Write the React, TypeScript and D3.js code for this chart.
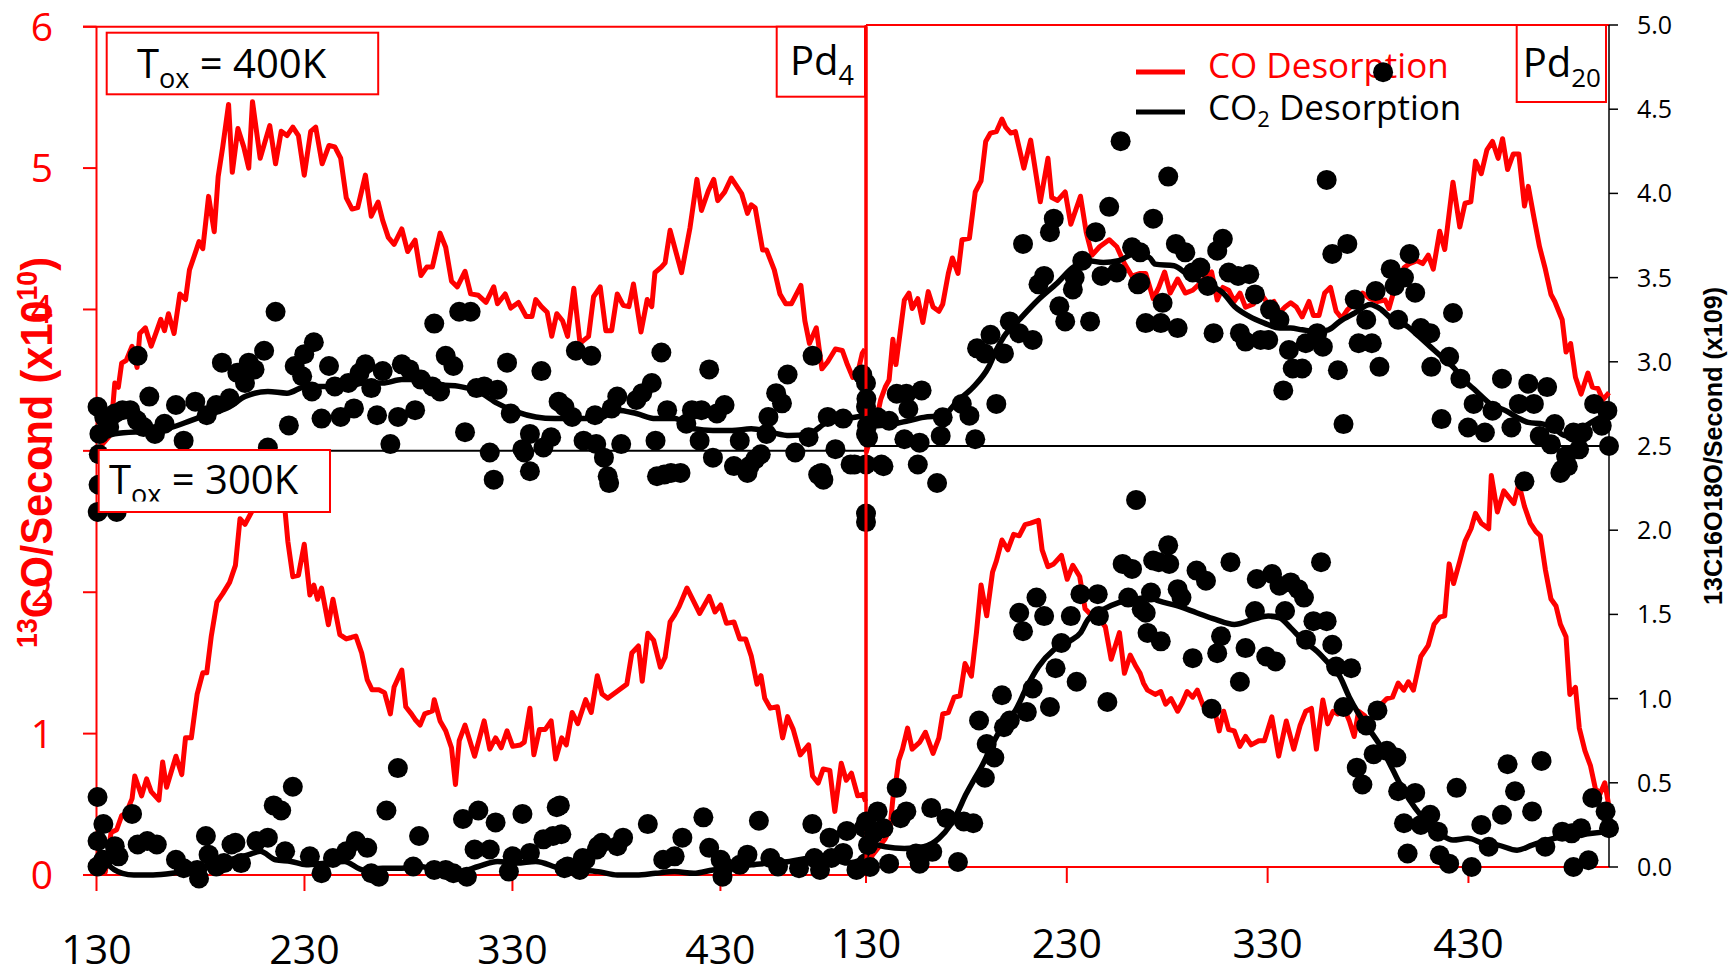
import React from 'react';
import * as d3 from 'd3';

type P = [number, number];

// ---------- axis ticks ----------
const xTickValues = [130, 230, 330, 430];
const leftRedTicks = [0, 1, 2, 3, 4, 5, 6];
const rightTicks = [0, 0.5, 1, 1.5, 2, 2.5, 3, 3.5, 4, 4.5, 5];

// ---------- Pd4, Tox = 400K (plotted on upper half) ----------
const pd4Ox400CO: P[] = [[130.5,2.98],[133,3.05],[136,3.1],[137.5,3.25],[138.8,3.48],[140.5,3.45],[142.1,3.62],[144.3,3.64],[147.1,3.74],[149.5,3.59],[150.8,3.83],[153.5,3.87],[156.3,3.74],[159,3.85],[160.9,3.93],[162.7,3.85],[164.6,3.97],[167.3,3.83],[170.1,4.11],[172.8,4.07],[174.7,4.28],[177.5,4.40],[179.3,4.48],[181.1,4.43],[183.9,4.80],[186.6,4.55],[188.5,4.94],[190.7,5.15],[193.5,5.45],[195.3,4.97],[198,5.28],[200.8,5.15],[203.2,5.00],[205,5.47],[208.7,5.07],[213.3,5.30],[216.1,5.03],[218.8,5.26],[221.6,5.23],[224.4,5.29],[227.1,5.23],[229.9,4.95],[233,5.26],[235.4,5.29],[238.5,5.03],[241.8,5.16],[244.6,5.15],[247.4,5.07],[250.1,4.79],[252.9,4.71],[255.6,4.72],[259.3,4.95],[262.1,4.66],[265.4,4.76],[267.6,4.63],[270.3,4.51],[273.1,4.46],[276.8,4.57],[279.6,4.41],[283.2,4.49],[286,4.24],[288.8,4.30],[291.5,4.30],[295.2,4.54],[297.9,4.44],[300.7,4.20],[303.5,4.16],[307.2,4.27],[309.9,4.11],[313.6,4.10],[317.3,4.05],[321,4.16],[322.8,4.04],[326.5,4.11],[329.2,4.01],[332.9,4.05],[336.6,3.95],[339.4,3.95],[341.2,4.07],[343.9,4.02],[346.7,3.98],[348.9,3.81],[351.3,3.97],[354.1,3.92],[356.5,3.81],[359.5,4.15],[362.5,3.76],[366.6,3.81],[369,4.09],[372.2,4.16],[374.9,3.85],[377.7,3.85],[380.4,4.11],[383.2,4.03],[386,4.02],[388.2,4.18],[391.8,3.84],[394.8,4.07],[397,4.02],[398.5,4.26],[401.6,4.30],[403.4,4.33],[405.8,4.56],[411.3,4.26],[415.4,4.58],[418.7,4.92],[420.9,4.70],[424.2,4.84],[426.8,4.92],[428.7,4.77],[432,4.83],[435.2,4.93],[437.5,4.88],[440.2,4.82],[443,4.68],[444.8,4.74],[446.7,4.72],[450.3,4.42],[452.2,4.42],[455.9,4.28],[458.6,4.11],[461.4,4.04],[464.1,4.04],[468.7,4.17],[470.6,3.92],[472.8,3.76],[476.1,3.87],[478.8,3.58],[481.6,3.63],[485.3,3.72],[488.6,3.71],[490.8,3.62],[493.6,3.52],[496.3,3.57],[498.2,3.69],[499.5,3.72]];

const pd4Ox400CO2: P[] = [[130.5,2.76],[131.4,2.60],[131.1,2.48],[130.6,2.14],[131,2.3],[133.7,2.70],[136.1,2.64],[138.8,2.72],[139.7,2.14],[142.5,2.74],[146.2,2.74],[149.5,2.68],[149.8,3.06],[152.6,2.64],[155.4,2.82],[158.1,2.60],[162.7,2.66],[168.2,2.77],[171.9,2.56],[177.5,2.79],[183,2.71],[187.6,2.77],[190.3,3.02],[194,2.81],[197.7,2.96],[201.4,2.90],[203.2,3.02],[206,2.98],[210.6,3.09],[212.4,2.52],[216.1,3.32],[222.5,2.65],[225.3,3.00],[228.9,2.94],[229.9,3.07],[234.5,3.14],[233.6,2.85],[238.2,2.69],[241.8,3.00],[244.6,2.88],[247.4,2.70],[251.1,2.90],[253.8,2.75],[256.5,2.96],[259.3,3.01],[262.1,2.87],[264.9,2.71],[267.6,2.97],[271.3,2.54],[275,2.70],[276.8,3.01],[280.5,2.98],[283.2,2.74],[286,2.92],[291.5,2.88],[292.4,3.25],[295.2,2.85],[297.9,3.06],[301.6,3.00],[304.4,3.32],[307.2,2.61],[309.9,3.32],[312.7,2.87],[316.4,2.88],[319.1,2.49],[321,2.33],[322.8,2.86],[327.4,3.02],[329.2,2.72],[334.8,2.51],[335.7,2.49],[338.4,2.60],[338.4,2.38],[343.9,2.97],[344.9,2.52],[348.6,2.58],[352.2,2.79],[355,2.76],[358.7,2.70],[360.5,3.09],[364.2,2.56],[367.9,3.06],[369.7,2.71],[370.3,2.54],[374,2.46],[375.8,2.35],[376.5,2.31],[377.7,2.75],[380.4,2.82],[382.3,2.54],[389.6,2.80],[392.4,2.84],[397,2.90],[398.8,2.56],[399.5,2.35],[401.6,3.08],[403,2.36],[404.4,2.74],[406.2,2.37],[410.8,2.37],[413.6,2.66],[416.3,2.74],[420,2.56],[420.9,2.74],[424.6,2.98],[426.4,2.46],[428.3,2.72],[432,2.77],[436.5,2.41],[439.3,2.56],[443,2.37],[444,2.41],[446.7,2.45],[449.4,2.48],[452.2,2.60],[453.1,2.70],[456.8,2.84],[459.6,2.78],[462.3,2.95],[466,2.49],[472.4,2.58],[474.3,3.06],[477,2.36],[478.5,2.37],[479.5,2.33],[481.6,2.70],[485.3,2.51],[489,2.69],[492.6,2.42],[494.5,2.42],[498.2,2.95],[500,2.90],[500,2.76],[500,2.60],[500,2.42],[500,2.13],[500,2.08]];

const pd4Ox400Fit: P[] = [[130.5,2.56],[138.8,2.60],[157.2,2.62],[166.4,2.64],[175.6,2.68],[184.8,2.72],[194,2.76],[201.4,2.82],[212.4,2.85],[221.6,2.84],[230.8,2.88],[240,2.88],[249.2,2.87],[258.4,2.90],[267.6,2.90],[276.8,2.92],[286,2.92],[295.2,2.89],[304.4,2.88],[313.6,2.85],[322.8,2.78],[332,2.73],[341.2,2.70],[350.4,2.69],[359.6,2.69],[371.2,2.69],[380.4,2.74],[389.6,2.72],[398.8,2.69],[408,2.69],[417.3,2.63],[426.4,2.62],[435.6,2.62],[444.8,2.63],[454,2.61],[463.2,2.59],[472.4,2.60],[481.6,2.67],[490.8,2.69],[500,2.71]];

// ---------- Pd4, Tox = 300K (lower half) ----------
const pd4Ox300CO: P[] = [[130,0.0],[132,0.05],[134.2,0.02],[137,0.30],[139.7,0.32],[142.1,0.42],[144.3,0.44],[147.1,0.54],[148.4,0.70],[151.7,0.56],[154.1,0.68],[156.3,0.59],[160,0.53],[161.8,0.80],[163.7,0.62],[168.2,0.84],[171,0.71],[172.8,0.97],[175.6,0.97],[178.4,1.28],[181.1,1.43],[183,1.43],[185.2,1.69],[187.9,1.93],[190.7,1.99],[194,2.07],[196.8,2.19],[199,2.52],[201.4,2.48],[205,2.58],[208,2.75],[211,2.62],[214,2.9],[217,2.75],[220.7,2.57],[222,2.36],[224.4,2.11],[227.1,2.12],[229.9,2.34],[232.6,1.98],[234.5,2.05],[236.3,1.95],[238.2,2.03],[241.5,1.77],[243.7,1.95],[247,1.70],[250.1,1.67],[252.5,1.68],[254.7,1.69],[257.5,1.57],[260.2,1.38],[262.5,1.31],[265.8,1.31],[268.5,1.29],[271.3,1.14],[273.1,1.33],[276.8,1.45],[278.7,1.19],[281.4,1.14],[283.2,1.10],[285.6,1.06],[287.8,1.14],[291.5,1.16],[292.4,1.24],[295.2,1.09],[297.9,1.02],[300.7,0.90],[302.6,0.64],[304.4,0.95],[307.2,1.06],[311.8,0.84],[316.4,1.09],[319.1,0.89],[321.9,0.97],[324.6,0.90],[327.4,1.02],[330.1,0.91],[333.8,0.92],[335.7,0.94],[338.4,1.18],[340.3,0.85],[343,1.03],[345.8,1.03],[348.6,1.09],[350.8,0.82],[353.7,0.97],[355.9,0.92],[358.7,1.15],[361.4,1.07],[365.2,1.24],[367.9,1.15],[370.8,1.41],[373.1,1.28],[375.8,1.25],[380.4,1.30],[385,1.35],[387.4,1.57],[390.6,1.62],[392.4,1.37],[395.1,1.71],[397.9,1.66],[401.1,1.47],[403.4,1.54],[405.8,1.79],[408,1.84],[410.2,1.90],[413.9,2.03],[416.3,1.96],[420,1.85],[424.6,1.97],[427.4,1.86],[430.1,1.91],[432.9,1.78],[436.5,1.79],[439.3,1.67],[442.1,1.67],[444.8,1.55],[447.6,1.35],[449.5,1.41],[451.3,1.25],[454,1.18],[457.4,1.19],[459.9,0.97],[462.3,1.12],[465,1.03],[468.4,0.85],[472.4,0.92],[474.3,0.70],[477,0.65],[479.4,0.75],[482.6,0.74],[485,0.45],[488.1,0.79],[490.5,0.67],[493,0.72],[496,0.56],[498.6,0.57],[499.8,0.52]];

const pd4Ox300CO2: P[] = [[130.5,0.46],[133.3,0.30],[130.5,0.20],[130.5,0.05],[133.3,0.09],[138.8,0.17],[140.6,0.11],[147.1,0.36],[149.8,0.18],[154.4,0.20],[159,0.18],[168.2,0.09],[171.9,0.04],[178.4,0.03],[179.3,-0.02],[182.6,0.23],[183.9,0.12],[187.6,0.05],[191.3,0.07],[194.9,0.18],[196.8,0.19],[199.5,0.07],[206.9,0.20],[212.4,0.22],[215.2,0.41],[218.8,0.38],[220.7,0.14],[224.4,0.52],[232.6,0.11],[238.2,0.01],[243.7,0.10],[250.1,0.14],[254.7,0.20],[260.2,0.16],[262.1,0.01],[265.8,-0.01],[269.4,0.38],[274.9,0.63],[282.3,0.05],[285.1,0.23],[292.4,0.03],[297.9,0.03],[301.6,0.01],[306.2,0.33],[308.1,-0.01],[311.8,0.15],[313.6,0.38],[319.1,0.15],[321.9,0.31],[328.3,0.02],[330.1,0.11],[334.8,0.36],[338.4,0.13],[344.9,0.21],[349.5,0.23],[351.3,0.40],[352.8,0.41],[353.5,0.24],[355,0.04],[356.5,0.05],[362.4,0.03],[363.8,0.10],[365.1,0.09],[370.6,0.15],[371.2,0.17],[373,0.19],[380.4,0.17],[383.2,0.22],[395.1,0.30],[402.5,0.09],[408,0.11],[411.7,0.22],[421.8,0.34],[424.6,0.16],[430.1,0.09],[431,-0.01],[431.9,0.05],[439.3,0.06],[443,0.12],[448.5,0.32],[454,0.10],[457.7,0.05],[467.8,0.04],[474.2,0.30],[475.2,0.10],[477.9,0.03],[482.5,0.22],[483.4,0.10],[489,0.13],[490.8,0.26],[495.4,0.03],[499.1,0.28],[500,0.07]];

const pd4Ox300Fit: P[] = [[130.5,0.17],[135.1,0.07],[142.5,0.01],[148,0.0],[157.2,0.0],[166.4,0.01],[175.6,0.03],[184.8,0.06],[194,0.09],[203.2,0.12],[208.7,0.14],[216.1,0.09],[223.5,0.08],[230.8,0.06],[240,0.07],[249.2,0.08],[258.4,0.03],[267.6,0.04],[276.8,0.04],[286,0.05],[295.2,0.02],[304.4,0.02],[313.6,0.05],[322.8,0.08],[332,0.07],[341.2,0.08],[352.8,0.04],[362,0.03],[371.2,0.02],[380.4,0.0],[389.6,0.0],[398.8,0.01],[408,0.02],[417.2,0.01],[426.4,0.03],[435.6,0.04],[444.8,0.06],[454,0.07],[463.2,0.08],[472.4,0.10],[481.6,0.11],[490.8,0.07],[500,0.10]];

// ---------- Pd20, Tox = 400K (upper half) ----------
const pd20Ox400CO: P[] = [[130,2.95],[132,3.05],[134,3.15],[135.8,3.23],[137.3,3.33],[139.6,3.42],[141.5,3.47],[143.4,3.76],[144.9,3.58],[147.2,3.83],[149.1,4.04],[151.4,4.09],[153,3.98],[155.8,4.05],[158.3,3.88],[161,4.10],[163.4,3.99],[166.3,3.96],[168.2,4.01],[171,4.23],[173,4.34],[175.8,4.23],[177.8,4.47],[181.5,4.48],[184.4,4.81],[187.3,4.89],[189.6,5.17],[192,5.23],[194.9,5.24],[197.7,5.33],[199.6,5.27],[202.1,5.23],[204.4,5.24],[208.6,4.98],[212,5.18],[216.8,4.74],[220.6,5.05],[222.5,4.77],[225.4,4.75],[229.2,4.81],[232,4.58],[236.8,4.78],[239.7,4.52],[242.6,4.36],[246.3,4.42],[251.1,4.47],[254.9,4.42],[258.7,4.30],[262.5,4.21],[266.5,4.23],[269.3,4.23],[273,4.05],[275.8,4.13],[278.7,4.24],[281.5,4.09],[285.2,4.19],[289,4.09],[292.7,4.11],[296.5,4.16],[299.3,4.21],[302.1,4.24],[304.9,4.04],[307.7,4.13],[310.6,4.11],[313.4,4.03],[316.2,4.09],[319,3.99],[322.8,4.01],[326.5,4.09],[330.3,4.01],[333.1,4.03],[335.9,3.95],[338.7,3.99],[341.5,4.02],[344.3,3.99],[347.2,3.92],[350.6,4.03],[352.8,3.93],[355.6,3.93],[358.4,4.09],[361.3,4.13],[364.1,3.96],[366.9,3.91],[369.7,3.97],[373.5,4.02],[377.3,4.09],[381,4.05],[384.7,4.03],[388.5,4.04],[390.4,3.98],[392.6,4.09],[395,4.16],[397.9,4.27],[400.7,4.30],[404.4,4.32],[407.2,4.30],[410,4.36],[412.5,4.26],[415.7,4.53],[418.2,4.40],[422.3,4.88],[425.7,4.56],[428.3,4.73],[431.2,4.74],[433.5,5.03],[436.4,4.94],[439.2,5.11],[442,5.17],[444.8,5.05],[447,5.19],[449.5,4.97],[452.3,5.08],[455.1,5.08],[457.9,4.71],[459.8,4.85],[462.6,4.63],[465.4,4.42],[468.3,4.26],[471.1,4.08],[473,4.03],[476.7,3.90],[478.6,3.67],[480.9,3.73],[483.3,3.49],[486.1,3.37],[489.5,3.52],[491.7,3.42],[494.5,3.41],[497,3.33],[500,3.38]];

const pd20Ox400CO2: P[] = [[130.2,2.78],[130.5,2.62],[131,2.55],[135.8,2.67],[137.7,2.39],[138.7,2.38],[141.5,2.65],[145.3,2.81],[149.1,2.54],[150.1,2.81],[151.1,2.72],[155.8,2.39],[156.7,2.52],[157.7,2.83],[165.4,2.28],[167.2,2.56],[168.2,2.67],[177.7,2.75],[181.5,2.68],[184.4,2.54],[185.3,3.08],[189.1,3.05],[192,3.16],[194.9,2.75],[198.7,3.05],[201.6,3.24],[206.3,3.17],[208.2,3.70],[213,3.13],[215.9,3.46],[218.7,3.51],[221.6,3.77],[223.5,3.85],[226.3,3.33],[229.2,3.24],[233,3.43],[233.9,3.50],[237.7,3.60],[241.6,3.24],[244.4,3.77],[247.3,3.51],[251.1,3.92],[254.9,3.53],[256.8,4.31],[262.5,3.68],[265.4,3.46],[266.5,3.65],[266.5,3.47],[269.3,3.23],[273,3.85],[276.8,3.23],[277.7,3.35],[280.5,4.10],[284.3,3.70],[285.2,3.20],[289,3.65],[292.7,3.53],[296.5,3.56],[300.2,3.45],[303.1,3.17],[304.9,3.66],[307.7,3.73],[310.6,3.53],[315.3,3.51],[316.2,3.17],[319,3.12],[320.9,3.52],[323.7,3.40],[326.5,3.13],[330.3,3.13],[331.2,3.31],[335.9,3.25],[337.8,2.83],[340.6,3.07],[342.5,2.96],[347.2,2.96],[349,3.11],[354.7,3.17],[357.5,3.09],[359.4,4.08],[362.2,3.64],[365,2.95],[367.8,2.63],[369.7,3.70],[373.4,3.37],[375.3,3.11],[379.1,3.25],[381.9,3.11],[383.8,3.42],[385.7,2.97],[387.5,4.72],[391.3,3.55],[393.2,3.45],[395,3.25],[397.9,3.50],[400.7,3.64],[403.5,3.41],[406.3,3.20],[411,3.17],[411.5,2.97],[416.6,2.66],[420.4,3.03],[422.3,3.29],[426,2.90],[429.8,2.61],[432.6,2.75],[438.2,2.58],[442,2.71],[446.7,2.90],[451.4,2.61],[455.1,2.75],[457.9,2.29],[459.8,2.87],[462.6,2.75],[465.5,2.56],[469.2,2.85],[471.1,2.51],[473,2.63],[475.8,2.34],[476.7,2.36],[478.6,2.44],[479.5,2.38],[482.3,2.58],[485.1,2.48],[487,2.58],[492.6,2.75],[496.4,2.62],[499.2,2.71],[500,2.50]];

const pd20Ox400Fit: P[] = [[130,2.62],[135.8,2.62],[143.4,2.63],[151.1,2.65],[158.7,2.67],[168.2,2.68],[175.8,2.77],[183.4,2.85],[191.1,2.97],[194.9,3.07],[198.7,3.15],[206.3,3.25],[215.9,3.37],[225.4,3.47],[233,3.56],[240.6,3.60],[248.2,3.59],[255.8,3.60],[263.5,3.64],[271.1,3.62],[274,3.58],[283.4,3.57],[290.9,3.51],[300.2,3.46],[307.7,3.41],[313.4,3.33],[320.9,3.27],[328.4,3.23],[335.9,3.20],[341.5,3.20],[347.2,3.19],[354.7,3.18],[360.3,3.19],[366,3.24],[373.5,3.29],[381,3.34],[386.6,3.31],[392.2,3.25],[399.7,3.21],[405.4,3.15],[411,3.09],[416.6,3.03],[422.3,2.97],[427.9,2.89],[433.5,2.83],[441,2.75],[448.5,2.71],[454.2,2.67],[459.8,2.64],[467.3,2.63],[473,2.60],[478.6,2.56],[484.2,2.59],[489.8,2.63],[495.5,2.67],[500,2.69]];

// ---------- Pd20, Tox = 300K (lower half) ----------
const pd20Ox300CO: P[] = [[130,0.0],[133,0.08],[136.8,0.15],[139.5,0.2],[141.9,0.27],[143.4,0.49],[144.9,0.61],[146.3,0.76],[148.2,0.84],[150.7,0.99],[153,0.84],[156.8,0.89],[159.6,0.96],[163.4,0.81],[166.3,0.92],[168.2,1.09],[171,1.10],[173.9,1.21],[176.8,1.22],[179.3,1.45],[182.5,1.36],[185,1.67],[187.3,2.01],[190.1,1.79],[193,2.10],[194.9,2.18],[197.7,2.33],[200.6,2.26],[203.5,2.37],[206.3,2.36],[209.2,2.44],[212,2.45],[215.9,2.47],[217.7,2.26],[220.6,2.14],[223.5,2.16],[227.3,2.22],[230.2,2.05],[233,2.15],[236.4,2.07],[239.1,1.84],[242.5,1.79],[245.4,1.79],[249.2,1.71],[252.1,1.48],[256.2,1.67],[258.7,1.38],[261.6,1.51],[264.4,1.43],[266.5,1.38],[268.2,1.31],[270.2,1.26],[274,1.23],[276.8,1.25],[279.2,1.16],[281.9,1.20],[285.2,1.11],[287.5,1.17],[289.9,1.25],[292.7,1.21],[295,1.26],[297.9,1.15],[301.1,1.11],[304,1.09],[305.9,0.97],[308.1,1.11],[310.6,0.98],[313.4,0.97],[316.2,0.86],[319,0.93],[321.8,0.87],[325.6,0.90],[328.4,0.90],[332.1,1.07],[335.5,0.79],[339.3,1.04],[343,0.84],[346.2,1.01],[349,1.11],[351.8,1.13],[354.3,0.84],[357.5,1.19],[359.9,1.02],[362.6,1.11],[365,1.09],[367.8,1.14],[370.7,1.04],[373.1,0.93],[375.3,1.11],[378.2,1.08],[381,1.02],[383.8,1.14],[386.6,1.16],[389.4,1.20],[392.2,1.21],[395,1.31],[397.8,1.26],[400.1,1.32],[402.6,1.26],[406.3,1.50],[410,1.58],[412.9,1.73],[415.7,1.78],[418.2,1.79],[420.4,2.16],[422.6,2.02],[425.7,2.18],[428.3,2.32],[431.3,2.41],[433.5,2.52],[436.4,2.45],[440.1,2.41],[441.4,2.79],[444.4,2.53],[447.6,2.68],[450.4,2.63],[452.6,2.59],[455.1,2.73],[457.9,2.57],[460.8,2.45],[463.6,2.39],[465.8,2.36],[468.3,2.12],[471.1,1.91],[473.6,1.86],[475.8,1.73],[478.6,1.64],[480.5,1.23],[483.3,1.28],[485.2,0.99],[488,0.83],[490.8,0.72],[493.2,0.56],[495.5,0.52],[497.9,0.60],[500,0.43]];

const pd20Ox300CO2: P[] = [[130.1,0.27],[131,0.13],[132,0.0],[133.9,0.20],[135.8,0.33],[138.7,0.23],[141.5,0.02],[145.3,0.47],[147.2,0.29],[150.1,0.33],[154.9,0.08],[156.7,0.02],[162.5,0.35],[163,0.09],[170.1,0.29],[175.8,0.03],[178.7,0.27],[183.4,0.26],[186.3,0.87],[189.2,0.53],[190.1,0.73],[193.9,0.65],[197.7,1.02],[198.7,0.83],[201.6,0.87],[206.3,1.51],[208.2,1.40],[210.1,0.92],[213,1.06],[214.9,1.60],[218.7,1.49],[221.6,0.95],[224.4,1.18],[227.3,1.33],[232,1.49],[234.9,1.10],[236.8,1.62],[245.4,1.62],[246,1.49],[250.2,0.98],[257.8,1.80],[260.6,1.60],[262.5,1.77],[264.5,2.18],[267.3,1.53],[269.3,1.51],[270.2,1.39],[271.9,1.63],[273,1.82],[275.8,1.81],[276.8,1.34],[280.5,1.91],[281,1.80],[285.2,1.65],[287.1,1.60],[292.7,1.24],[294.6,1.76],[299.3,1.70],[302.1,0.94],[304.9,1.27],[306.8,1.37],[311.5,1.81],[316.2,1.10],[319,1.30],[323.7,1.52],[324.6,1.71],[329.3,1.25],[332.2,1.74],[334,1.22],[335.9,1.67],[338.7,1.52],[341.5,1.69],[345.3,1.65],[348.1,1.60],[349.1,1.35],[352.8,1.46],[356.6,1.81],[359.4,1.46],[362.2,1.32],[364.1,1.19],[367.8,0.95],[371.6,1.18],[374.4,0.59],[377.2,0.49],[379.1,0.84],[382.8,0.67],[384.7,0.93],[389.4,0.69],[394.1,0.65],[395,0.45],[397.9,0.26],[399.7,0.08],[403.5,0.44],[406.3,0.25],[411,0.31],[414.8,0.21],[415.7,0.07],[420.4,0.02],[424.1,0.47],[431.6,0.0],[436.4,0.25],[440.1,0.12],[446.7,0.31],[449.5,0.61],[453.2,0.45],[461.7,0.33],[466.4,0.63],[468.3,0.12],[476.7,0.21],[481.4,0.20],[482.3,0.0],[486.1,0.23],[489.8,0.04],[491.7,0.41],[498.3,0.33],[500,0.23]];

const pd20Ox300Fit: P[] = [[130.1,0.15],[139.6,0.12],[149.1,0.11],[158.7,0.12],[166.3,0.17],[172,0.25],[175.8,0.33],[179.7,0.43],[183.4,0.51],[187.3,0.59],[193,0.73],[198.7,0.85],[204.4,0.93],[210.1,1.07],[215.9,1.19],[223.5,1.29],[231.1,1.34],[236.8,1.39],[240.6,1.47],[248.2,1.53],[255.8,1.57],[263.5,1.59],[271.1,1.60],[275.8,1.58],[285.2,1.55],[294.6,1.51],[304,1.47],[313.4,1.44],[322.8,1.47],[330.3,1.49],[335.9,1.48],[341.5,1.42],[347.2,1.35],[354.7,1.28],[360.3,1.21],[366,1.13],[370.6,1.01],[375.3,0.91],[381,0.81],[386.6,0.71],[392.2,0.58],[397.9,0.45],[403.5,0.35],[409.1,0.27],[416.6,0.19],[422.3,0.16],[429.8,0.17],[437.3,0.14],[444.8,0.13],[454.2,0.10],[461.7,0.13],[469.2,0.16],[476.7,0.18],[484.2,0.19],[491.7,0.20],[499.2,0.21]];

const RED = '#ff0000';
const FONT = "'Open Sans', 'Liberation Sans', sans-serif";
const BOLD_FONT = "'Liberation Sans', Arial, sans-serif";

export default function App() {
  // left chart (Pd4)
  const xL = d3.scaleLinear().domain([130, 500]).range([96.5, 866]);
  const yLred = d3.scaleLinear().domain([0, 6]).range([875, 26.7]);
  const yLblk = d3.scaleLinear().domain([0, 5]).range([875, 26.7]);
  // right chart (Pd20)
  const xR = d3.scaleLinear().domain([130, 500]).range([866, 1609]);
  const yRred = d3.scaleLinear().domain([0, 6]).range([867, 25]);
  const yRblk = d3.scaleLinear().domain([0, 5]).range([867, 25]);

  const lineOf = (x: d3.ScaleLinear<number, number>, y: d3.ScaleLinear<number, number>, smooth = false) =>
    d3.line<P>().x(d => x(d[0])).y(d => y(d[1])).curve(smooth ? d3.curveMonotoneX : d3.curveLinear);

  const redL = lineOf(xL, yLred);
  const redR = lineOf(xR, yRred);
  const fitL = lineOf(xL, yLblk, true);
  const fitR = lineOf(xR, yRblk, true);

  const dots = (data: P[], x: d3.ScaleLinear<number, number>, y: d3.ScaleLinear<number, number>, key: string) =>
    data.map((d, i) => <circle key={key + i} cx={x(d[0])} cy={y(d[1])} r={10} fill="#000" />);

  const RW = 5;
  const BW = 5.5;

  return (
    <svg width={1731} height={970} style={{ position: 'absolute', left: 0, top: 0, display: 'block', background: '#fff' }}>
      <defs>
        <clipPath id="clip300">
          <rect x={98} y={450} width={232} height={51.5} />
        </clipPath>
      </defs>
      <rect x={0} y={0} width={1731} height={970} fill="#fff" />

      {/* ===== LEFT CHART : Pd4 ===== */}
      <line x1={83} x2={866} y1={yLred(6)} y2={yLred(6)} stroke={RED} strokeWidth={2} />
      <line x1={83} x2={866} y1={yLred(0)} y2={yLred(0)} stroke={RED} strokeWidth={2} />
      <line x1={xL(130)} x2={xL(130)} y1={yLred(6)} y2={yLred(0)} stroke={RED} strokeWidth={2} />
      <line x1={866} x2={866} y1={yLred(6)} y2={yLred(0)} stroke={RED} strokeWidth={3} />
      {leftRedTicks.map(t => (
        <line key={'lt' + t} x1={83} x2={xL(130)} y1={yLred(t)} y2={yLred(t)} stroke={RED} strokeWidth={2} />
      ))}
      {xTickValues.map(t => (
        <line key={'lxt' + t} x1={xL(t)} x2={xL(t)} y1={yLred(0)} y2={yLred(0) + 16} stroke={RED} strokeWidth={2} />
      ))}
      <line x1={xL(130)} x2={866} y1={yLred(3)} y2={yLred(3)} stroke="#000" strokeWidth={2} />

      {leftRedTicks.map(t => (
        <text key={'ltl' + t} x={53} y={yLred(t) + 14} textAnchor="end" fontFamily={FONT} fontSize={39} fill={RED}>{t}</text>
      ))}
      {xTickValues.map(t => (
        <text key={'lxl' + t} x={xL(t)} y={964} textAnchor="middle" fontFamily={FONT} fontSize={41} fill="#000">{t}</text>
      ))}

      <text transform="translate(52,452.5) rotate(-90)" textAnchor="middle" fontFamily={BOLD_FONT} fontWeight="bold"
        fontSize={45} fill={RED} textLength={391} lengthAdjust="spacingAndGlyphs">
        <tspan fontSize={29} dy={-15}>13</tspan><tspan dy={15}>CO/Second (x10</tspan><tspan fontSize={29} dy={-15}>10</tspan><tspan dy={15}>)</tspan>
      </text>

      <path d={redL(pd4Ox400CO) || ''} fill="none" stroke={RED} strokeWidth={RW} strokeLinejoin="round" />
      <path d={redL(pd4Ox300CO) || ''} fill="none" stroke={RED} strokeWidth={RW} strokeLinejoin="round" />
      {dots(pd4Ox400CO2, xL, yLblk, 'a')}
      {dots(pd4Ox300CO2, xL, yLblk, 'b')}
      <path d={fitL(pd4Ox400Fit) || ''} fill="none" stroke="#000" strokeWidth={BW} strokeLinejoin="round" />
      <path d={fitL(pd4Ox300Fit) || ''} fill="none" stroke="#000" strokeWidth={BW} strokeLinejoin="round" />

      <rect x={106.7} y={32.7} width={271.5} height={61.6} fill="#fff" stroke={RED} strokeWidth={2} />
      <text x={137} y={78} fontFamily={FONT} fontSize={40} fill="#000">
        T<tspan fontSize={27} dy={10}>ox</tspan><tspan dy={-10}> = 400K</tspan>
      </text>
      <rect x={98.7} y={450} width={231.3} height={62} fill="#fff" stroke={RED} strokeWidth={2} />
      <text x={109} y={494} fontFamily={FONT} fontSize={40} fill="#000" clipPath="url(#clip300)">
        T<tspan fontSize={27} dy={10}>ox</tspan><tspan dy={-10}> = 300K</tspan>
      </text>
      <rect x={776.7} y={26.7} width={88.3} height={70} fill="#fff" stroke={RED} strokeWidth={2} />
      <text x={790} y={75} fontFamily={FONT} fontSize={40} fill="#000">
        Pd<tspan fontSize={27} dy={10}>4</tspan>
      </text>

      {/* ===== RIGHT CHART : Pd20 ===== */}
      <line x1={1136} x2={1185} y1={72} y2={72} stroke={RED} strokeWidth={5} />
      <line x1={1136} x2={1185} y1={112} y2={112} stroke="#000" strokeWidth={5} />
      <text x={1208} y={78} fontFamily={FONT} fontSize={35} fill={RED}>CO Desorption</text>
      <text x={1208} y={120} fontFamily={FONT} fontSize={35} fill="#000">
        CO<tspan fontSize={22} dy={7}>2</tspan><tspan dy={-7}> Desorption</tspan>
      </text>

      <line x1={866} x2={1609} y1={yRred(6)} y2={yRred(6)} stroke={RED} strokeWidth={2} />
      <line x1={866} x2={1609} y1={yRred(0)} y2={yRred(0)} stroke={RED} strokeWidth={2} />
      <line x1={866} x2={866} y1={yRred(6)} y2={yRred(0)} stroke={RED} strokeWidth={3} />
      {xTickValues.map(t => (
        <line key={'rxt' + t} x1={xR(t)} x2={xR(t)} y1={yRred(0)} y2={yRred(0) + 16} stroke={RED} strokeWidth={2} />
      ))}
      <line x1={866} x2={1609} y1={yRblk(2.5)} y2={yRblk(2.5)} stroke="#000" strokeWidth={2} />
      <line x1={1609} x2={1609} y1={yRblk(5)} y2={yRblk(0)} stroke="#000" strokeWidth={1.5} />
      {rightTicks.map(t => (
        <line key={'rt' + t} x1={1609} x2={1618} y1={yRblk(t)} y2={yRblk(t)} stroke="#000" strokeWidth={1.5} />
      ))}
      {rightTicks.map(t => (
        <text key={'rtl' + t} x={1637} y={yRblk(t) + 9} fontFamily={FONT} fontSize={25} fill="#000">{t.toFixed(1)}</text>
      ))}
      {xTickValues.map(t => (
        <text key={'rxl' + t} x={xR(t)} y={958} textAnchor="middle" fontFamily={FONT} fontSize={41} fill="#000">{t}</text>
      ))}

      <text transform="translate(1722,446) rotate(-90)" textAnchor="middle" fontFamily={BOLD_FONT} fontWeight="bold"
        fontSize={26} fill="#000" textLength={318} lengthAdjust="spacingAndGlyphs">13C16O18O/Second (x109)</text>

      <path d={redR(pd20Ox400CO) || ''} fill="none" stroke={RED} strokeWidth={RW} strokeLinejoin="round" />
      <path d={redR(pd20Ox300CO) || ''} fill="none" stroke={RED} strokeWidth={RW} strokeLinejoin="round" />
      {dots(pd20Ox400CO2, xR, yRblk, 'c')}
      {dots(pd20Ox300CO2, xR, yRblk, 'd')}
      <path d={fitR(pd20Ox400Fit) || ''} fill="none" stroke="#000" strokeWidth={BW} strokeLinejoin="round" />
      <path d={fitR(pd20Ox300Fit) || ''} fill="none" stroke="#000" strokeWidth={BW} strokeLinejoin="round" />

      <rect x={1516.7} y={25} width={89.3} height={77} fill="#fff" stroke={RED} strokeWidth={2} />
      <text x={1522.7} y={77} fontFamily={FONT} fontSize={40} fill="#000">
        Pd<tspan fontSize={26} dy={10}>20</tspan>
      </text>
    </svg>
  );
}
